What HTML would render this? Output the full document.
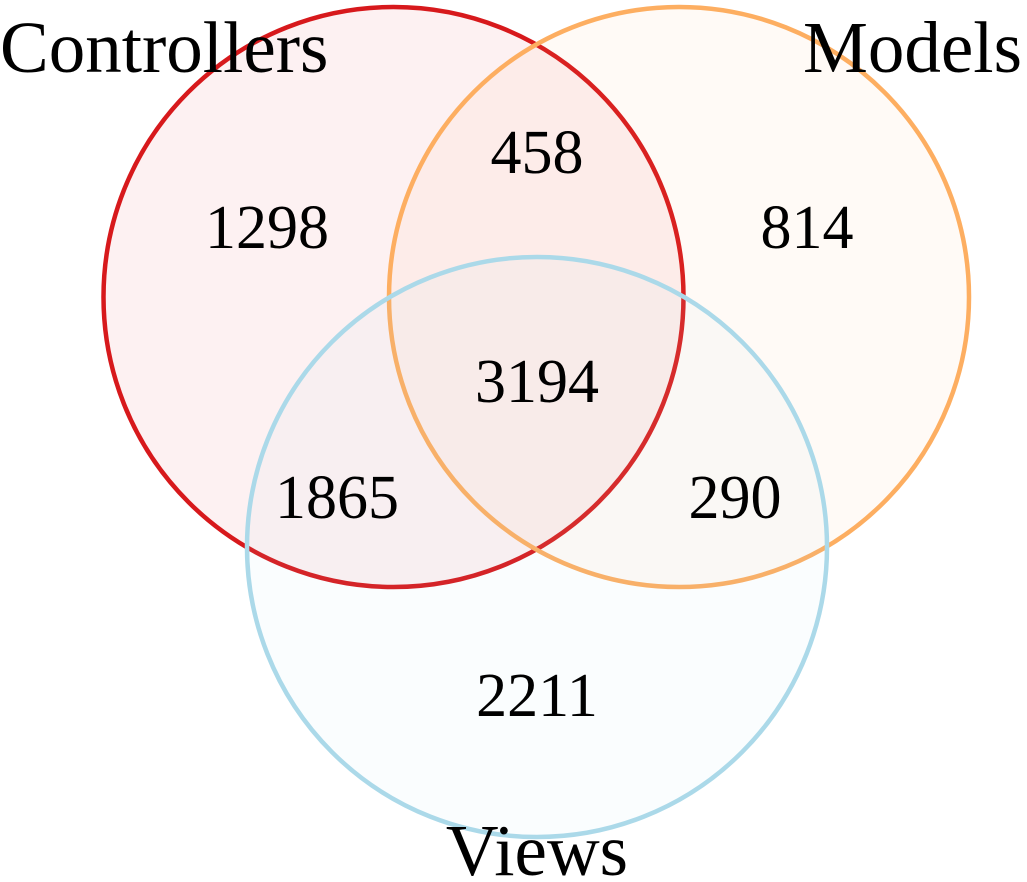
<!DOCTYPE html>
<html><head><meta charset="utf-8"><style>
html,body{margin:0;padding:0;background:#fff;}
svg{display:block;}
text{font-family:"Liberation Serif",serif;fill:#000;}
</style></head><body>
<svg id="venn" width="1027" height="882" viewBox="0 0 1027 882">
<g id="circles"></g>
<g id="labels"></g>
</svg>
<script>
const setNames = ["Controllers", "Models", "Views"];
const regionKeys = ["C", "M", "V", "CM", "CV", "MV", "CMV"];
const regionValues = [1298, 814, 2211, 458, 1865, 290, 3194];
const svg = document.getElementById('venn');
const ns = "http://www.w3.org/2000/svg";
const circles = [
  {cx:393.5, cy:297, r:290, stroke:"#d7191c", fill:"rgba(215,25,28,0.06)"},
  {cx:679, cy:297, r:290, stroke:"#fdae61", fill:"rgba(253,174,97,0.06)"},
  {cx:537, cy:547, r:290, stroke:"#abd9e9", fill:"rgba(171,217,233,0.06)"}
];
const cg = document.getElementById('circles');
circles.forEach((c,i)=>{
  const e = document.createElementNS(ns,'circle');
  e.setAttribute('cx',c.cx);e.setAttribute('cy',c.cy);e.setAttribute('r',c.r);
  e.setAttribute('fill',c.fill);e.setAttribute('stroke',c.stroke);e.setAttribute('stroke-width',4.5);
  
  
  cg.appendChild(e);
});
const lg = document.getElementById('labels');
const namePos = [{x:0,y:72,a:"start"},{x:1022,y:72,a:"end"},{x:537,y:875,a:"middle"}];
setNames.forEach((n,i)=>{
  const t = document.createElementNS(ns,'text');
  t.setAttribute('x',namePos[i].x);t.setAttribute('y',namePos[i].y);
  t.setAttribute('text-anchor',namePos[i].a);t.setAttribute('font-size',73);
  t.textContent = n;
  
  
  lg.appendChild(t);
});
const regionPos = {C:[267,248],M:[807,248],V:[537,716],CM:[537,173],CV:[337,518],MV:[735,518],CMV:[537,402]};
regionKeys.forEach((k,i)=>{
  const t = document.createElementNS(ns,'text');
  t.setAttribute('x',regionPos[k][0]);t.setAttribute('y',regionPos[k][1]);
  t.setAttribute('text-anchor','middle');t.setAttribute('font-size',62);
  t.textContent = regionValues[i];
  
  
  lg.appendChild(t);
});
</script>
</body></html>
